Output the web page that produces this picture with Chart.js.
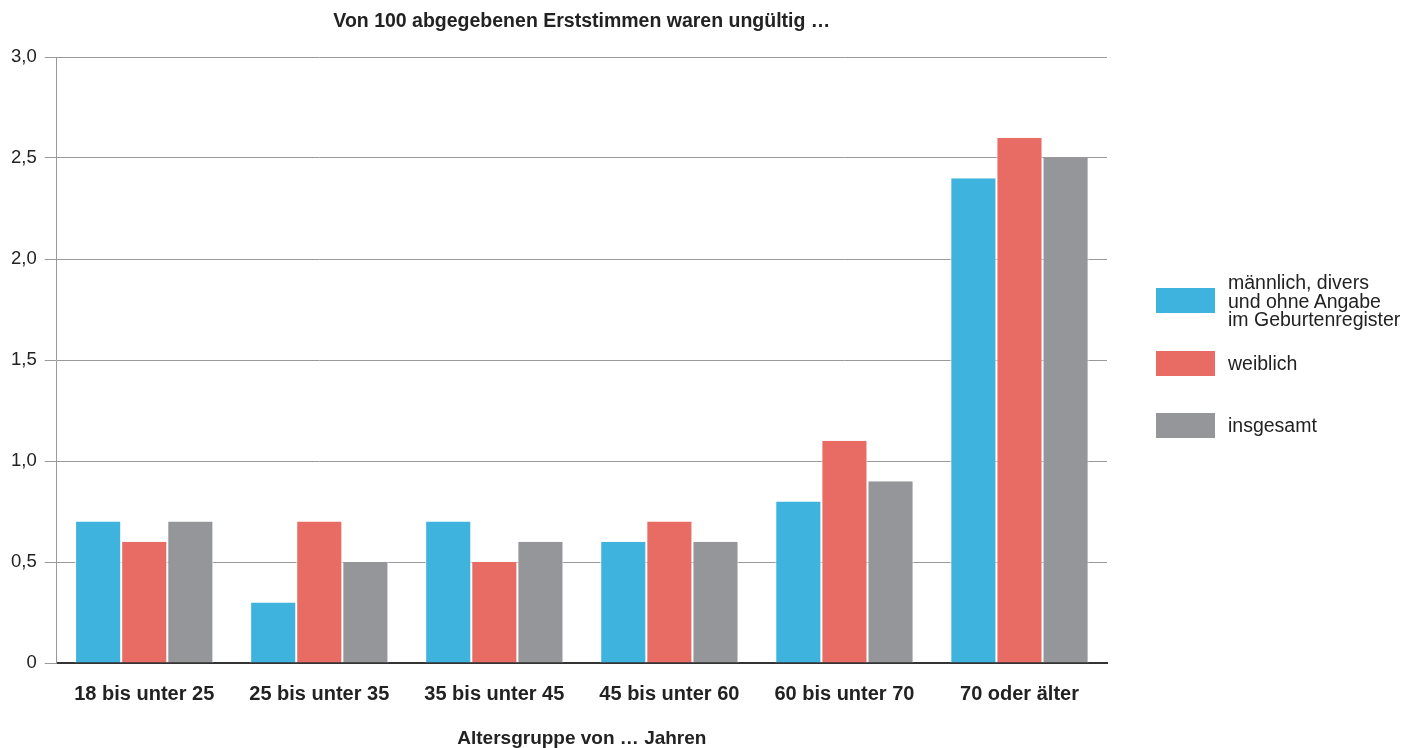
<!DOCTYPE html>
<html lang="de">
<head>
<meta charset="utf-8">
<script src="https://cdn.jsdelivr.net/npm/chart.js@4/dist/chart.umd.min.js"></script>
<style>
  html, body { margin: 0; padding: 0; background: #fff; }
  #wrap { position: relative; width: 1405px; height: 748px; font-family: "Liberation Sans", Arial, sans-serif; }
  #title { position: absolute; left: 281px; width: 600px; top: 9px; text-align: center; color: #222; font-size: 19.5px; font-weight: bold; line-height: 22px; white-space: nowrap; }
  #legend { position: absolute; left: 1156px; top: 273px; color: #222; font-size: 19.5px; line-height: 18.5px; }
  .item { position: absolute; left: 0; display: flex; align-items: center; white-space: nowrap; }
  .box { width: 59px; height: 25px; margin-right: 13px; flex: none; }
</style>
</head>
<body>
<div id="wrap">
  <canvas id="barChart" width="1405" height="748"></canvas>
  <div id="title"></div>
  <div id="legend"></div>
</div>
<script>
// Ungültige Erststimmen nach Altersgruppe
const chartTitle = 'Von 100 abgegebenen Erststimmen waren ungültig …';
const categories = ['18 bis unter 25', '25 bis unter 35', '35 bis unter 45', '45 bis unter 60', '60 bis unter 70', '70 oder älter'];
const seriesNames = ['männlich, divers\nund ohne Angabe\nim Geburtenregister', 'weiblich', 'insgesamt'];
const maennlich = [0.7, 0.3, 0.7, 0.6, 0.8, 2.4];
const weiblich = [0.6, 0.7, 0.5, 0.7, 1.1, 2.6];
const insgesamt = [0.7, 0.5, 0.6, 0.6, 0.9, 2.5];
const yTicks = [0, 0.5, 1, 1.5, 2, 2.5, 3];
const colors = ['#3db3de', '#e86c64', '#959699'];

const font = '"Liberation Sans", Arial, sans-serif';

function initChart() {
    const canvas = document.getElementById('barChart');
    if(!canvas) return;
    const ctx = canvas.getContext('2d');

    const values = [maennlich, weiblich, insgesamt];
    window.bChart = new Chart(ctx, {
        type: 'bar',
        data: {
            labels: categories,
            datasets: values.map((v, i) => ({
                label: seriesNames[i],
                data: v,
                backgroundColor: colors[i],
                borderColor: '#fff',
                borderWidth: { left: 1, right: 1, top: 0, bottom: 0 },
                borderSkipped: false,
                categoryPercentage: 0.79,
                barPercentage: 1
            }))
        },
        options: {
            responsive: false,
            animation: false,
            layout: { padding: { left: 3, right: 298, top: 57, bottom: 0 } },
            scales: {
                x: {
                    grid: { display: false },
                    border: { color: '#333', width: 2 },
                    ticks: { color: '#222', padding: 11, font: { family: font, size: 20, weight: 'bold' } },
                    title: { display: true, text: 'Altersgruppe von … Jahren', color: '#222', padding: { top: 12, bottom: 0 }, font: { family: font, size: 19, weight: 'bold', lineHeight: 1 } }
                },
                y: {
                    min: 0,
                    max: 3,
                    afterBuildTicks: axis => { axis.ticks = yTicks.map(v => ({ value: v })); },
                    grid: { color: '#999', lineWidth: 1, tickLength: 12 },
                    border: { color: '#999', width: 1 },
                    ticks: {
                        color: '#222',
                        padding: 8,
                        font: { family: font, size: 18.5 },
                        callback: v => v === 0 ? '0' : v.toFixed(1).replace('.', ',')
                    }
                }
            },
            plugins: {
                legend: { display: false },
                tooltip: { enabled: false },
                title: { display: false }
            }
        }
    });

    // Titel über der Zeichenfläche zentriert
    const area = window.bChart.chartArea;
    const title = document.getElementById('title');
    title.textContent = chartTitle;
    title.style.left = ((area.left + area.right) / 2 - 300) + 'px';

    // Legende rechts
    const legend = document.getElementById('legend');
    const tops = [0, 78, 140];
    seriesNames.forEach((name, i) => {
        const item = document.createElement('div');
        item.className = 'item';
        item.style.top = tops[i] + 'px';
        const box = document.createElement('div');
        box.className = 'box';
        box.style.background = colors[i];
        const txt = document.createElement('div');
        txt.innerHTML = name.split('\n').join('<br>');
        item.appendChild(box);
        item.appendChild(txt);
        legend.appendChild(item);
    });
}

initChart();
</script>
</body>
</html>
